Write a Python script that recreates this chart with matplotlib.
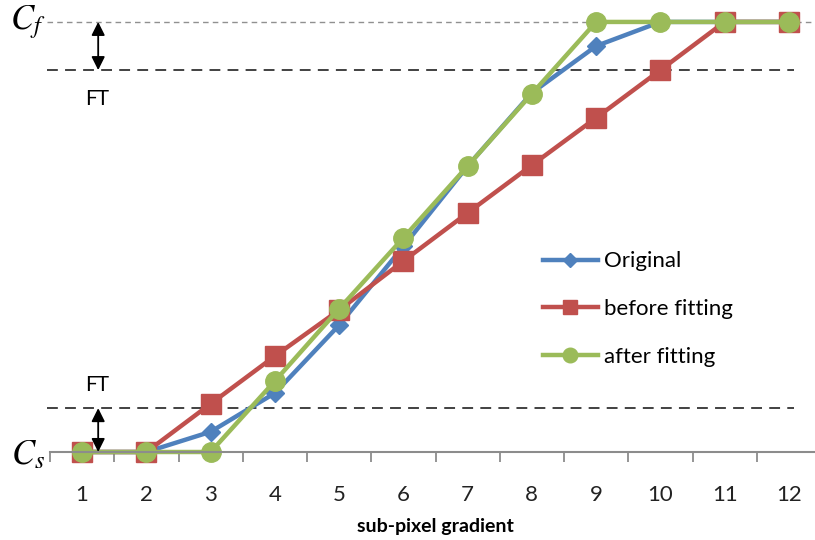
import matplotlib.pyplot as plt

plt.rcParams['font.family'] = ['Lato', 'DejaVu Sans']
plt.rcParams['mathtext.fontset'] = 'stix'

# sub-pixel gradient positions and normalised intensity (C_s = 0, C_f = 1)
x = [1, 2, 3, 4, 5, 6, 7, 8, 9, 10, 11, 12]
original = [0, 0, 0.047, 0.137, 0.295, 0.478, 0.665, 0.835, 0.944, 1, 1, 1]
before_fit = [0, 0, 0.112, 0.223, 0.330, 0.444, 0.556, 0.667, 0.777, 0.888, 1, 1]
after_fit = [0, 0, 0, 0.165, 0.333, 0.498, 0.665, 0.833, 1, 1, 1, 1]

c_s, c_f = 0.0, 1.0
ft_low, ft_high = 0.102, 0.888

blue = '#4F81BD'
red = '#C0504D'
green = '#9BBB59'

fig = plt.figure(figsize=(8.15, 5.4), dpi=100)
ax = fig.add_axes([50 / 815, 88 / 540, 771 / 815, 452 / 540])

ax.plot(x, original, color=blue, lw=3.2, marker='D', ms=9, label='Original', clip_on=False)
ax.plot(x, before_fit, color=red, lw=3.2, marker='s', ms=14, label='before fitting', clip_on=False)
ax.plot(x, after_fit, color=green, lw=3.2, marker='o', ms=14, label='after fitting', clip_on=False)

# threshold lines
ax.plot([0.45, 12.5], [c_f, c_f], color='#909090', lw=1, ls=(0, (4, 3)), zorder=0, clip_on=False)
ax.plot([0.45, 12.08], [ft_high, ft_high], color='#333333', lw=1.3, ls=(0, (6, 4)), zorder=0, clip_on=False)
ax.plot([0.45, 12.08], [ft_low, ft_low], color='#333333', lw=1.3, ls=(0, (6, 4)), zorder=0, clip_on=False)

for y0, y1 in [(c_f, ft_high), (c_s, ft_low)]:
    ax.annotate('', xy=(1.25, y0), xytext=(1.25, y1),
                arrowprops=dict(arrowstyle='<|-|>', color='black', lw=1.3,
                                mutation_scale=20, shrinkA=0, shrinkB=0))

ax.text(1.23, ft_high - 0.045, 'FT', ha='center', va='top', fontsize=15)
ax.text(1.23, ft_low + 0.03, 'FT', ha='center', va='bottom', fontsize=15)
ax.text(0.43, c_f, '$C_f$', ha='right', va='center', fontsize=25)
ax.text(0.43, c_s - 0.005, '$C_s$', ha='right', va='center', fontsize=25)

ax.set_xlim(0.5, 12.5)
ax.set_ylim(c_s, 1.051)

for side in ['top', 'right', 'left']:
    ax.spines[side].set_visible(False)
ax.spines['bottom'].set_color('#8C8C8C')
ax.spines['bottom'].set_linewidth(1.5)
ax.set_yticks([])

ax.set_xticks(x)
ax.set_xticks([v + 0.5 for v in range(0, 13)], minor=True)
ax.tick_params(axis='x', which='major', length=0, pad=24, labelsize=16, labelcolor='#222222')
ax.tick_params(axis='x', which='minor', length=7, width=1.3, color='#8C8C8C')

ax.set_xlabel('sub-pixel gradient', fontsize=14, fontweight='bold', labelpad=9)

ax.legend(loc='center left', bbox_to_anchor=(0.613, 0.316), frameon=False,
          fontsize=16, handlelength=2.5, labelspacing=1.25, handletextpad=0.25,
          markerscale=0.75)

fig.savefig('out.png', dpi=100)
